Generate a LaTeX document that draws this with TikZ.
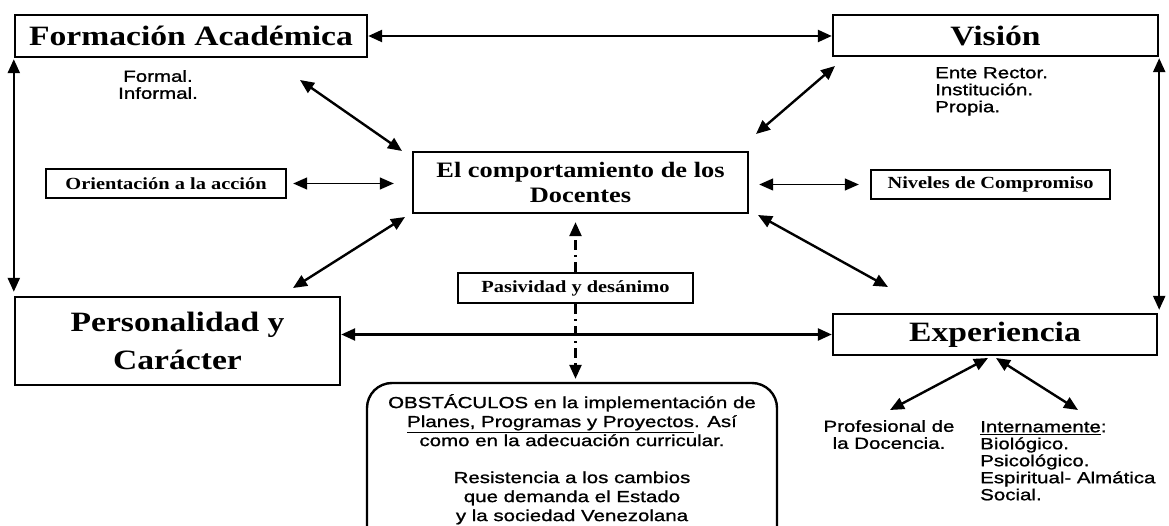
\documentclass[tikz,border=0pt]{standalone}
\usepackage{fontspec}
\usetikzlibrary{arrows.meta}
\newfontfamily\tserif[FakeStretch=1.2]{Liberation Serif}
\newfontfamily\asans[FakeStretch=1.28,FakeBold=1.2]{Liberation Sans}
\begin{document}
\begin{tikzpicture}[x=1pt,y=-1pt,
  >={Triangle[length=14pt,width=12pt]},
  box/.style={draw, line width=2.4pt, inner sep=0pt, align=center},
  bigbox/.style={box, font={\tserif\bfseries\fontsize{28}{38}\selectfont}},
  midbox/.style={box, font={\tserif\bfseries\fontsize{22}{25}\selectfont}},
  smallbox/.style={box, font={\tserif\bfseries\fontsize{17}{20}\selectfont}},
  sanstext/.style={inner sep=0pt, font={\asans\fontsize{16}{17}\selectfont}},
  thk/.style={line width=2.4pt, <->},
  thn/.style={line width=1.3pt, <->},
  dsh/.style={line width=2.4pt, ->, dash pattern=on 10pt off 5pt on 2pt off 5pt}]
\clip (0,0) rectangle (1169,526);
\fill[white] (0,0) rectangle (1169,526);
% boxes
\node[bigbox, minimum width=352pt, minimum height=42pt] (fa) at (191,36) {Formación Académica};
\node[bigbox, minimum width=325pt, minimum height=41pt] (vi) at (995.5,35.5) {Visión};
\node[midbox, minimum width=335pt, minimum height=61pt] (cb) at (580.5,182.5) {El comportamiento de los\\Docentes};
\node[smallbox, minimum width=240pt, minimum height=29pt] (or) at (166,183.5) {Orientación a la acción};
\node[smallbox, minimum width=239pt, minimum height=29pt] (ni) at (990.5,184.5) {Niveles de Compromiso};
\node[bigbox, minimum width=325pt, minimum height=88pt] (pe) at (177.5,341) {Personalidad y\\Carácter};
\node[bigbox, minimum width=324pt, minimum height=41pt] (ex) at (995,334.5) {Experiencia};
\node[smallbox, minimum width=235pt, minimum height=30pt] (pa) at (575.5,288) {Pasividad y desánimo};
\node[draw, line width=2.4pt, rounded corners=25pt, minimum width=410pt, minimum height=190pt, inner sep=0pt] (ob) at (572,478) {};
% texts
\node[sanstext, align=center, anchor=north] (fi) at (158,70) {Formal.\\Informal.};
\node[sanstext, align=left, anchor=north west] (er) at (935,67) {Ente Rector.\\Institución.\\Propia.};
\node[sanstext, align=center, anchor=north] (pd) at (889,420) {Profesional de\\la Docencia.};
\node[sanstext, align=left, anchor=north west] (it) at (980,421) {\underline{Internamente}:\\Biológico.\\Psicológico.\\Espiritual- Almática\\Social.};
\node[sanstext, align=center, anchor=north, font={\asans\fontsize{16}{19}\selectfont}] (obt) at (572,394) {OBSTÁCULOS en la implementación de\\\underline{Planes, Programas y Proyectos}. Así\\como en la adecuación curricular.\\[18pt]Resistencia a los cambios\\que demanda el Estado\\y la sociedad Venezolana};
% coordinates for free ends
\coordinate (d1a) at (300,80);  \coordinate (d1b) at (402,151);
\coordinate (d2a) at (835,66);  \coordinate (d2b) at (756,134);
\coordinate (d3a) at (405,217); \coordinate (d3b) at (293,288);
\coordinate (d4a) at (758,215); \coordinate (d4b) at (888,287);
\coordinate (e1a) at (988,358); \coordinate (e1b) at (890,410);
\coordinate (e2a) at (996,358); \coordinate (e2b) at (1078,410);
% connectors
\draw[thk] (fa.east) -- (fa.east -| vi.west);
\draw[thk] (ex.west -| pe.east) -- (ex.west);
\draw[thk, shorten <=1pt, shorten >=4pt] (fa.south west) -- (pe.north west);
\draw[thk, shorten <=1pt, shorten >=3pt] (vi.south east) -- (vi.south east |- ex.north east);
\draw[thn, shorten <=6pt, shorten >=18pt] (or.east) -- (or.east -| cb.west);
\draw[thn, shorten <=10pt, shorten >=11pt] (cb.east |- ni.west) -- (ni.west);
\draw[thk] (d1a) -- (d1b);
\draw[thk] (d2a) -- (d2b);
\draw[thk] (d3a) -- (d3b);
\draw[thk] (d4a) -- (d4b);
\draw[thk] (e1a) -- (e1b);
\draw[thk] (e2a) -- (e2b);
\draw[dsh, shorten >=8pt] (pa.north) -- (pa.north |- cb.south);
\draw[dsh, shorten >=3pt] (pa.south) -- (pa.south |- ob.north);
\end{tikzpicture}
\end{document}
